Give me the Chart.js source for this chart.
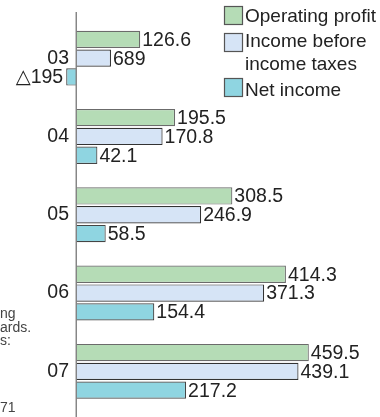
<!DOCTYPE html>
<html>
<head>
<meta charset="utf-8">
<script src="https://cdn.jsdelivr.net/npm/chart.js@4.4.0/dist/chart.umd.min.js"></script>
<style>
  html, body { margin: 0; padding: 0; background: #fff; }
</style>
</head>
<body>
<canvas id="resultsChart" width="380" height="417"></canvas>
<script>
const years = ['03', '04', '05', '06', '07'];

// billions of yen, fiscal years
const operatingProfit = [126.6, 195.5, 308.5, 414.3, 459.5];
const incomeBeforeTaxes = [68.9, 170.8, 246.9, 371.3, 439.1];
const netIncome = [-19.5, 42.1, 58.5, 154.4, 217.2];

// printed next to each bar (△ = loss)
const operatingLabels = ['126.6', '195.5', '308.5', '414.3', '459.5'];
const pretaxLabels = ['689', '170.8', '246.9', '371.3', '439.1'];
const netLabels = ['△195', '42.1', '58.5', '154.4', '217.2'];

const legendLines = [['Operating profit'], ['Income before', 'income taxes'], ['Net income']];
const noteLines = ['ng', 'ards.', 's:'];
const noteTail = '71';

const FONT = '"Liberation Sans", Arial, "DejaVu Sans", sans-serif';

const datasets = [
  { label: 'Operating profit', data: operatingProfit, valueLabels: operatingLabels,
    backgroundColor: '#b5dcb6', borderColor: '#6b6b6b' },
  { label: 'Income before income taxes', data: incomeBeforeTaxes, valueLabels: pretaxLabels,
    backgroundColor: '#d6e4f6', borderColor: '#333333' },
  { label: 'Net income', data: netIncome, valueLabels: netLabels,
    backgroundColor: '#8fd5e1', borderColor: '#454545' }
].map(ds => Object.assign(ds, {
  borderWidth: 1.2,
  categoryPercentage: 0.72,
  barPercentage: 0.92,
  clip: false
}));

// vertical zero line, running past the plot area
const zeroLine = {
  id: 'zeroLine',
  afterDatasetsDraw(chart) {
    const { ctx } = chart;
    const x = Math.round(chart.scales.x.getPixelForValue(0)) + 0.25;
    ctx.save();
    ctx.strokeStyle = '#808080';
    ctx.lineWidth = 1.4;
    ctx.beginPath();
    ctx.moveTo(x, 12);
    ctx.lineTo(x, chart.height);
    ctx.stroke();
    ctx.restore();
  }
};

const valueLabels = {
  id: 'valueLabels',
  afterDatasetsDraw(chart) {
    const { ctx } = chart;
    ctx.save();
    ctx.font = '19.5px ' + FONT;
    ctx.fillStyle = '#222';
    ctx.textBaseline = 'middle';
    chart.data.datasets.forEach((ds, i) => {
      chart.getDatasetMeta(i).data.forEach((bar, j) => {
        const text = ds.valueLabels[j];
        if (ds.data[j] < 0) {
          ctx.textAlign = 'right';
          ctx.fillText(text, bar.x - 3, bar.y + 1);
        } else {
          ctx.textAlign = 'left';
          ctx.fillText(text, bar.x + 2, bar.y + 1);
        }
      });
    });
    ctx.restore();
  }
};

const boxLegend = {
  id: 'boxLegend',
  afterDraw(chart) {
    const { ctx } = chart;
    const boxTops = [6, 33, 78];
    const baselines = [[22], [47, 69.5], [96]];
    ctx.save();
    ctx.font = '19px ' + FONT;
    ctx.textAlign = 'left';
    ctx.textBaseline = 'alphabetic';
    chart.data.datasets.forEach((ds, i) => {
      ctx.fillStyle = ds.backgroundColor;
      ctx.fillRect(224, boxTops[i], 19, 19);
      ctx.strokeStyle = '#555';
      ctx.lineWidth = 1.2;
      ctx.strokeRect(224.5, boxTops[i] + 0.5, 18, 18);
      ctx.fillStyle = '#222';
      legendLines[i].forEach((line, k) => ctx.fillText(line, 245, baselines[i][k]));
    });
    ctx.restore();
  }
};

const sideNote = {
  id: 'sideNote',
  afterDraw(chart) {
    const { ctx } = chart;
    ctx.save();
    ctx.font = '14px ' + FONT;
    ctx.fillStyle = '#444';
    ctx.textAlign = 'left';
    noteLines.forEach((line, k) => ctx.fillText(line, 0, 318 + k * 13.5));
    ctx.fillText(noteTail, 0, 412);
    ctx.restore();
  }
};

new Chart(document.getElementById('resultsChart'), {
  type: 'bar',
  data: { labels: years, datasets },
  options: {
    indexAxis: 'y',
    responsive: false,
    animation: false,
    devicePixelRatio: 1,
    layout: { padding: { top: 19, bottom: 6.5, left: 0, right: 0 } },
    scales: {
      x: { display: false, min: -12, max: 600 },
      y: {
        position: 'left',
        grid: { display: false, drawTicks: false },
        border: { display: false },
        ticks: { color: '#222', padding: 1, font: { family: FONT, size: 19.5 } },
        afterFit(scale) {
          scale.width = 70;
          scale.paddingTop = 0;
          scale.paddingBottom = 0;
        }
      }
    },
    plugins: {
      legend: { display: false },
      tooltip: { enabled: false }
    }
  },
  plugins: [zeroLine, valueLabels, boxLegend, sideNote]
});
</script>
</body>
</html>
